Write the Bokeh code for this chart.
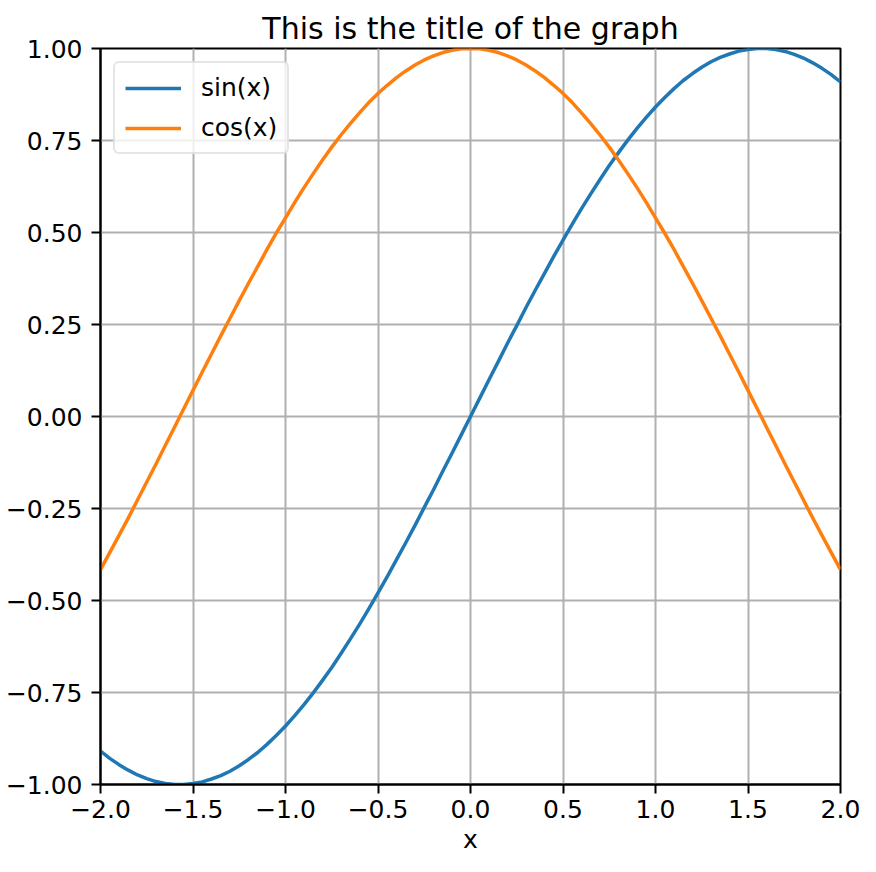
from bokeh.plotting import figure
from bokeh.models import Range1d, FixedTicker, CustomJSTickFormatter, Legend, LegendItem, Title
from bokeh.embed import file_html
from bokeh.resources import INLINE

x_vals = [-2.00, -1.95, -1.90, -1.85, -1.80, -1.75, -1.70, -1.65, -1.60, -1.55,
          -1.50, -1.45, -1.40, -1.35, -1.30, -1.25, -1.20, -1.15, -1.10, -1.05,
          -1.00, -0.95, -0.90, -0.85, -0.80, -0.75, -0.70, -0.65, -0.60, -0.55,
          -0.50, -0.45, -0.40, -0.35, -0.30, -0.25, -0.20, -0.15, -0.10, -0.05,
          0.00,
          0.05, 0.10, 0.15, 0.20, 0.25, 0.30, 0.35, 0.40, 0.45, 0.50,
          0.55, 0.60, 0.65, 0.70, 0.75, 0.80, 0.85, 0.90, 0.95, 1.00,
          1.05, 1.10, 1.15, 1.20, 1.25, 1.30, 1.35, 1.40, 1.45, 1.50,
          1.55, 1.60, 1.65, 1.70, 1.75, 1.80, 1.85, 1.90, 1.95, 2.00]
sin_vals = [-0.909, -0.929, -0.946, -0.961, -0.974, -0.984, -0.992, -0.997, -1.000, -1.000,
            -0.997, -0.993, -0.985, -0.976, -0.964, -0.949, -0.932, -0.913, -0.891, -0.867,
            -0.841, -0.813, -0.783, -0.751, -0.717, -0.682, -0.644, -0.605, -0.565, -0.523,
            -0.479, -0.435, -0.389, -0.343, -0.296, -0.247, -0.199, -0.149, -0.100, -0.050,
            0.000,
            0.050, 0.100, 0.149, 0.199, 0.247, 0.296, 0.343, 0.389, 0.435, 0.479,
            0.523, 0.565, 0.605, 0.644, 0.682, 0.717, 0.751, 0.783, 0.813, 0.841,
            0.867, 0.891, 0.913, 0.932, 0.949, 0.964, 0.976, 0.985, 0.993, 0.997,
            1.000, 1.000, 0.997, 0.992, 0.984, 0.974, 0.961, 0.946, 0.929, 0.909]
cos_vals = [-0.416, -0.370, -0.323, -0.276, -0.227, -0.178, -0.129, -0.079, -0.029, 0.021,
            0.071, 0.121, 0.170, 0.219, 0.267, 0.315, 0.362, 0.408, 0.454, 0.498,
            0.540, 0.582, 0.622, 0.660, 0.697, 0.732, 0.765, 0.796, 0.825, 0.853,
            0.878, 0.900, 0.921, 0.939, 0.955, 0.969, 0.980, 0.989, 0.995, 0.999,
            1.000,
            0.999, 0.995, 0.989, 0.980, 0.969, 0.955, 0.939, 0.921, 0.900, 0.878,
            0.853, 0.825, 0.796, 0.765, 0.732, 0.697, 0.660, 0.622, 0.582, 0.540,
            0.498, 0.454, 0.408, 0.362, 0.315, 0.267, 0.219, 0.170, 0.121, 0.071,
            0.021, -0.029, -0.079, -0.129, -0.178, -0.227, -0.276, -0.323, -0.370, -0.416]
x_ticks = [-2.0, -1.5, -1.0, -0.5, 0.0, 0.5, 1.0, 1.5, 2.0]
y_ticks = [-1.0, -0.75, -0.5, -0.25, 0.0, 0.25, 0.5, 0.75, 1.0]

FONT = "DejaVu Sans"

p = figure(width=860, height=856, output_backend="svg", toolbar_location=None,
           x_range=Range1d(-2, 2), y_range=Range1d(-1, 1),
           min_border_left=100, min_border_right=20, min_border_top=48, min_border_bottom=70)

p.title = Title(text="This is the title of the graph", align="center",
                text_font=FONT, text_font_size="30px", text_font_style="normal",
                text_color="black", offset=0, standoff=6)

p.outline_line_color = "black"
p.outline_line_width = 2
p.outline_line_alpha = 1.0
p.background_fill_color = "white"
p.border_fill_color = "white"

for ax in (p.xaxis[0], p.yaxis[0]):
    ax.axis_line_color = "black"
    ax.axis_line_width = 2
    ax.major_tick_line_color = "black"
    ax.major_tick_line_width = 2
    ax.major_tick_out = 9
    ax.major_tick_in = 0
    ax.minor_tick_line_color = None
    ax.major_label_text_font = FONT
    ax.major_label_text_font_size = "25px"
    ax.major_label_text_color = "black"

p.xaxis[0].ticker = FixedTicker(ticks=x_ticks)
p.yaxis[0].ticker = FixedTicker(ticks=y_ticks)
p.xaxis[0].formatter = CustomJSTickFormatter(code="return tick.toFixed(1).replace('-', '\u2212');")
p.yaxis[0].formatter = CustomJSTickFormatter(code="return tick.toFixed(2).replace('-', '\u2212');")
p.xaxis[0].major_label_standoff = 6
p.yaxis[0].major_label_standoff = 9

p.xaxis[0].axis_label = "x"
p.xaxis[0].axis_label_text_font = FONT
p.xaxis[0].axis_label_text_font_size = "25px"
p.xaxis[0].axis_label_text_font_style = "normal"
p.xaxis[0].axis_label_text_color = "black"
p.xaxis[0].axis_label_standoff = 4

p.grid.grid_line_color = "#b0b0b0"
p.grid.grid_line_width = 2

r_sin = p.line(x_vals, sin_vals, line_color="#1f77b4", line_width=3.5, line_join="round")
r_cos = p.line(x_vals, cos_vals, line_color="#ff7f0e", line_width=3.5, line_join="round")

legend = Legend(items=[LegendItem(label="sin(x)", renderers=[r_sin]),
                       LegendItem(label="cos(x)", renderers=[r_cos])],
                location="top_left")
legend.label_text_font = FONT
legend.label_text_font_size = "25px"
legend.label_text_color = "black"
legend.glyph_width = 56
legend.glyph_height = 26
legend.label_standoff = 20
legend.label_height = 26
legend.spacing = 11
legend.padding = 10
legend.margin = 13
legend.border_line_color = "#cccccc"
legend.border_line_width = 2
legend.background_fill_alpha = 0.8
try:
    legend.border_radius = 6
except Exception:
    pass
p.add_layout(legend)

open("out.html", "w").write(file_html(p, INLINE))
